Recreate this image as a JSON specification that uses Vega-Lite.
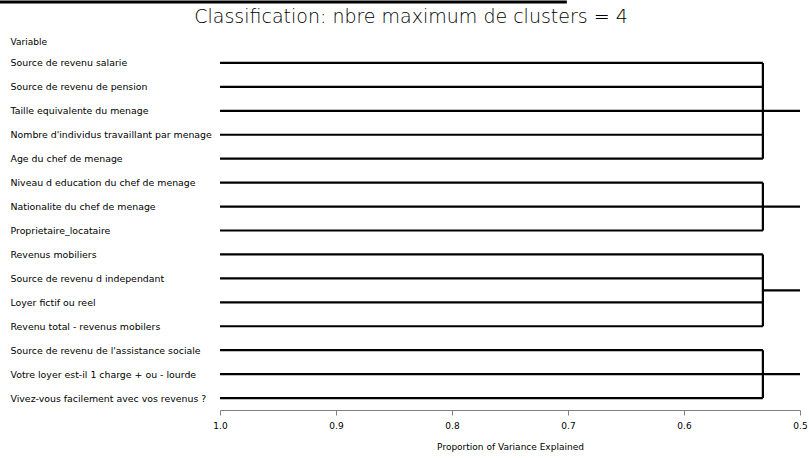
{
  "$schema": "https://vega.github.io/schema/vega-lite/v6.json",
  "autosize": {"type": "none"},
  "width": 580,
  "height": 359,
  "padding": {"left": 220, "top": 51, "right": 9, "bottom": 48},
  "background": "white",
  "config": {"view": {"stroke": null}, "font": "DejaVu Sans"},
  "title": {
    "text": "Classification: nbre maximum de clusters = 4",
    "font": "DejaVu Sans",
    "fontSize": 19,
    "fontWeight": 200,
    "color": "black",
    "anchor": "middle",
    "frame": "group",
    "dx": -99,
    "dy": 37,
    "offset": 10
  },
  "datasets": {
    "leaves": [
      {"variable": "Source de revenu salarie", "order": 0, "cluster": 1, "start": 1.0, "join": 0.532},
      {"variable": "Source de revenu de pension", "order": 1, "cluster": 1, "start": 1.0, "join": 0.532},
      {"variable": "Taille equivalente du menage", "order": 2, "cluster": 1, "start": 1.0, "join": 0.532},
      {"variable": "Nombre d'individus travaillant par menage", "order": 3, "cluster": 1, "start": 1.0, "join": 0.532},
      {"variable": "Age du chef de menage", "order": 4, "cluster": 1, "start": 1.0, "join": 0.532},
      {"variable": "Niveau d education du chef de menage", "order": 5, "cluster": 2, "start": 1.0, "join": 0.532},
      {"variable": "Nationalite du chef de menage", "order": 6, "cluster": 2, "start": 1.0, "join": 0.532},
      {"variable": "Proprietaire_locataire", "order": 7, "cluster": 2, "start": 1.0, "join": 0.532},
      {"variable": "Revenus mobiliers", "order": 8, "cluster": 3, "start": 1.0, "join": 0.532},
      {"variable": "Source de revenu d independant", "order": 9, "cluster": 3, "start": 1.0, "join": 0.532},
      {"variable": "Loyer fictif ou reel", "order": 10, "cluster": 3, "start": 1.0, "join": 0.532},
      {"variable": "Revenu total - revenus mobilers", "order": 11, "cluster": 3, "start": 1.0, "join": 0.532},
      {"variable": "Source de revenu de l'assistance sociale", "order": 12, "cluster": 4, "start": 1.0, "join": 0.532},
      {"variable": "Votre loyer est-il 1 charge + ou - lourde", "order": 13, "cluster": 4, "start": 1.0, "join": 0.532},
      {"variable": "Vivez-vous facilement avec vos revenus ?", "order": 14, "cluster": 4, "start": 1.0, "join": 0.532}
    ],
    "clusters": [
      {"cluster": 1, "first": 0, "last": 4, "mid": 2, "join": 0.532, "end": 0.5},
      {"cluster": 2, "first": 5, "last": 7, "mid": 6, "join": 0.532, "end": 0.5},
      {"cluster": 3, "first": 8, "last": 11, "mid": 9.5, "join": 0.532, "end": 0.5},
      {"cluster": 4, "first": 12, "last": 14, "mid": 13, "join": 0.532, "end": 0.5}
    ],
    "topline": [
      {"from": 1.19, "to": 0.701, "row": -2.55}
    ]
  },
  "layer": [
    {
      "data": {"name": "leaves"},
      "mark": {"type": "rule", "color": "black", "strokeWidth": 2.2},
      "encoding": {
        "x": {
          "field": "start", "type": "quantitative",
          "scale": {"domain": [0.5, 1.0], "reverse": true, "nice": false, "zero": false},
          "axis": {
            "values": [1.0, 0.9, 0.8, 0.7, 0.6, 0.5],
            "format": ".1f",
            "grid": false,
            "labelFlush": false,
            "domainColor": "#808080",
            "domainWidth": 1,
            "tickColor": "#808080",
            "tickSize": 5,
            "labelFont": "DejaVu Sans",
            "labelFontSize": 9,
            "labelColor": "black",
            "labelPadding": 6,
            "title": "Proportion of Variance Explained",
            "titleFont": "DejaVu Sans",
            "titleFontSize": 9,
            "titleFontWeight": "normal",
            "titleColor": "black",
            "titlePadding": 12
          }
        },
        "x2": {"field": "join"},
        "y": {
          "field": "variable", "type": "nominal",
          "sort": {"field": "order", "op": "min"},
          "scale": {"type": "point", "padding": 0.5},
          "axis": {
            "domain": false,
            "ticks": false,
            "labelAlign": "left",
            "labelPadding": 210,
            "labelFont": "DejaVu Sans",
            "labelFontSize": 9.4,
            "labelColor": "black",
            "labelLimit": 400,
            "title": "Variable",
            "titleAngle": 0,
            "titleAlign": "left",
            "titleBaseline": "middle",
            "titleX": -210,
            "titleY": -10,
            "titleFont": "DejaVu Sans",
            "titleFontSize": 9,
            "titleFontWeight": "normal",
            "titleColor": "black"
          }
        }
      }
    },
    {
      "data": {"name": "clusters"},
      "mark": {"type": "rule", "color": "black", "strokeWidth": 2.2},
      "encoding": {
        "x": {"field": "join", "type": "quantitative"},
        "y": {"field": "first", "type": "quantitative", "scale": {"domain": [-0.5, 14.5], "reverse": true, "nice": false, "zero": false}, "axis": null},
        "y2": {"field": "last"}
      }
    },
    {
      "data": {"name": "clusters"},
      "mark": {"type": "rule", "color": "black", "strokeWidth": 2.2},
      "encoding": {
        "x": {"field": "join", "type": "quantitative"},
        "x2": {"field": "end"},
        "y": {"field": "mid", "type": "quantitative", "scale": {"domain": [-0.5, 14.5], "reverse": true, "nice": false, "zero": false}, "axis": null}
      }
    },
    {
      "data": {"name": "topline"},
      "mark": {"type": "rule", "color": "black", "strokeWidth": 3},
      "encoding": {
        "x": {"field": "from", "type": "quantitative"},
        "x2": {"field": "to"},
        "y": {"field": "row", "type": "quantitative", "scale": {"domain": [-0.5, 14.5], "reverse": true, "nice": false, "zero": false}, "axis": null}
      }
    }
  ],
  "resolve": {"scale": {"y": "independent"}, "axis": {"y": "independent"}}
}
